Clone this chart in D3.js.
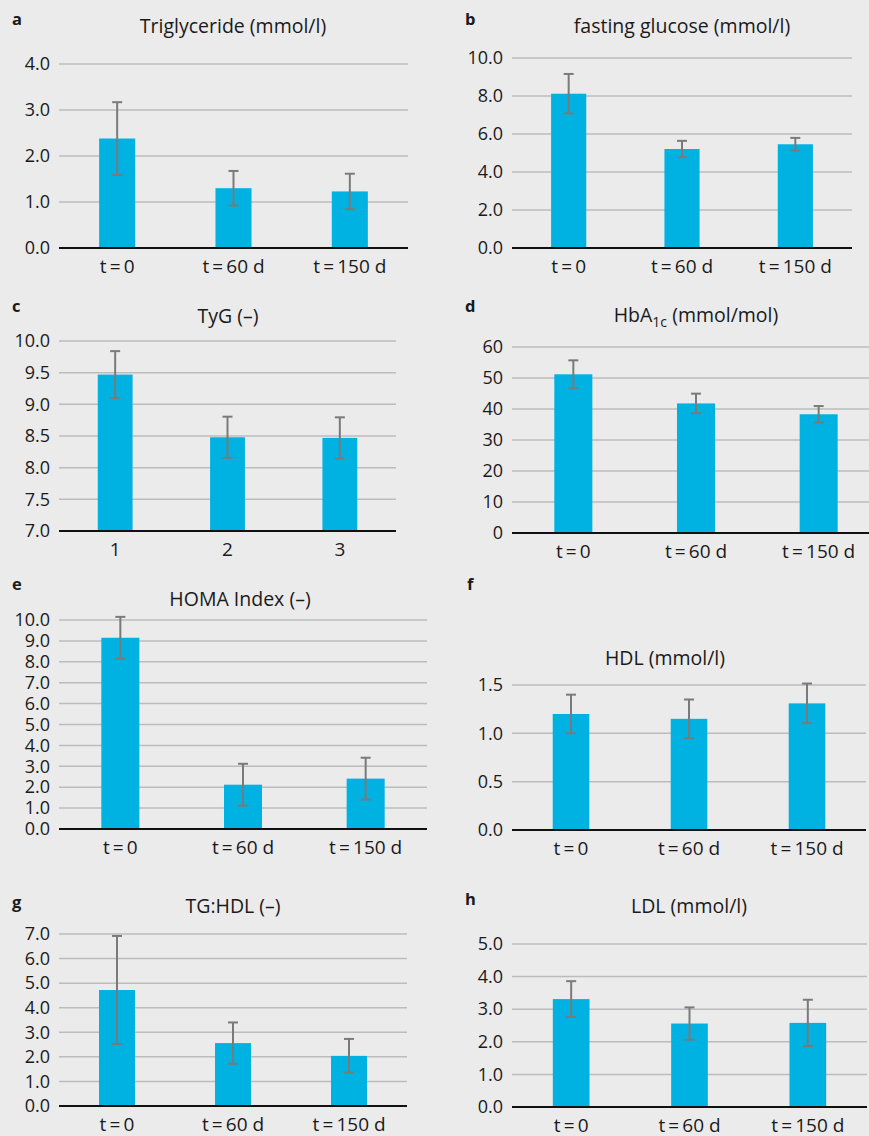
<!DOCTYPE html>
<html>
<head>
<meta charset="utf-8">
<script src="https://cdn.jsdelivr.net/npm/d3@7"></script>
<style>
  body { margin: 0; background: #ebebeb; }
  text { font-family: "Open Sans", sans-serif; fill: #1a1a1a; }
</style>
</head>
<body>
<svg id="chart" width="869" height="1136"></svg>
<script>
// --- data (mean and SD per time point)
var timeLabels = ['t\u2009=\u20090', 't\u2009=\u200960 d', 't\u2009=\u2009150 d'];
var tygLabels = ['1', '2', '3'];

var trigMean = [2.38, 1.30, 1.23],  trigSD = [0.79, 0.375, 0.385];
var glucMean = [8.12, 5.21, 5.46],  glucSD = [1.04, 0.43, 0.335];
var tygMean  = [9.47, 8.48, 8.47],  tygSD  = [0.37, 0.325, 0.325];
var hbaMean  = [51.2, 41.8, 38.3],  hbaSD  = [4.5, 3.15, 2.65];
var homaMean = [9.15, 2.12, 2.41],  homaSD = [1.0, 1.0, 1.0];
var hdlMean  = [1.20, 1.15, 1.31],  hdlSD  = [0.20, 0.20, 0.205];
var tghMean  = [4.72, 2.56, 2.04],  tghSD  = [2.2, 0.84, 0.69];
var ldlMean  = [3.31, 2.56, 2.58],  ldlSD  = [0.55, 0.495, 0.71];

var trigTicks = [0, 1, 2, 3, 4];
var glucTicks = [0, 2, 4, 6, 8, 10];
var tygTicks  = [7, 7.5, 8, 8.5, 9, 9.5, 10];
var hbaTicks  = [0, 10, 20, 30, 40, 50, 60];
var homaTicks = [0, 1, 2, 3, 4, 5, 6, 7, 8, 9, 10];
var hdlTicks  = [0, 0.5, 1, 1.5];
var tghTicks  = [0, 1, 2, 3, 4, 5, 6, 7];
var ldlTicks  = [0, 1, 2, 3, 4, 5];

// --- panel layout (box = left, right, top, bottom in px)
var panels = [
  {letter: 'a', title: 'Triglyceride (mmol/l)', cats: timeLabels, mean: trigMean, sd: trigSD, ticks: trigTicks, fmt: '.1f',
   box: [59, 408, 64, 248], titleAt: [233, 33], letterAt: [12, 25]},
  {letter: 'b', title: 'fasting glucose (mmol/l)', cats: timeLabels, mean: glucMean, sd: glucSD, ticks: glucTicks, fmt: '.1f',
   box: [512, 852, 58, 248], titleAt: [682, 33], letterAt: [465, 25]},
  {letter: 'c', title: 'TyG (\u2013)', cats: tygLabels, mean: tygMean, sd: tygSD, ticks: tygTicks, fmt: '.1f',
   box: [59, 396, 341, 531], titleAt: [228, 323], letterAt: [12, 312]},
  {letter: 'd', title: 'HbA', sub: '1c', after: ' (mmol/mol)', cats: timeLabels, mean: hbaMean, sd: hbaSD, ticks: hbaTicks, fmt: 'd',
   box: [512, 880, 347, 533], titleAt: [696, 322], letterAt: [465, 312]},
  {letter: 'e', title: 'HOMA Index (\u2013)', cats: timeLabels, mean: homaMean, sd: homaSD, ticks: homaTicks, fmt: '.1f',
   box: [59, 427, 620, 829], titleAt: [240, 606], letterAt: [12, 590]},
  {letter: 'f', title: 'HDL (mmol/l)', cats: timeLabels, mean: hdlMean, sd: hdlSD, ticks: hdlTicks, fmt: '.1f',
   box: [512, 866, 685, 830], titleAt: [665, 665], letterAt: [467, 590]},
  {letter: 'g', title: 'TG:HDL (\u2013)', cats: timeLabels, mean: tghMean, sd: tghSD, ticks: tghTicks, fmt: '.1f',
   box: [59, 407, 934, 1106], titleAt: [233, 913], letterAt: [12, 908]},
  {letter: 'h', title: 'LDL (mmol/l)', cats: timeLabels, mean: ldlMean, sd: ldlSD, ticks: ldlTicks, fmt: '.1f',
   box: [512, 867, 944, 1107], titleAt: [689, 913], letterAt: [465, 905]}
];

var svg = d3.select('#chart');
svg.append('rect').attr('width', 869).attr('height', 1136).style('fill', '#ebebeb');

panels.forEach(function(p) {
  var L = p.box[0], R = p.box[1], T = p.box[2], B = p.box[3];
  var rows = p.cats.map(function(c, i) { return {cat: c, mean: p.mean[i], sd: p.sd[i]}; });

  var x = d3.scaleBand().domain(p.cats).range([L, R]).paddingInner(0.69).paddingOuter(0.345);
  var y = d3.scaleLinear().domain(d3.extent(p.ticks)).range([B, T]);

  var g = svg.append('g');

  // gridlines
  g.selectAll('line.grid')
    .data(p.ticks.slice(1))
    .enter().append('line')
    .attr('x1', L).attr('x2', R)
    .attr('y1', function(d) { return y(d); })
    .attr('y2', function(d) { return y(d); })
    .style('stroke', '#bcbcbc')
    .style('stroke-width', 1.5);

  // bars
  g.selectAll('rect.bar')
    .data(rows)
    .enter().append('rect')
    .attr('x', function(d) { return x(d.cat); })
    .attr('width', x.bandwidth())
    .attr('y', function(d) { return y(d.mean); })
    .attr('height', function(d) { return y(y.domain()[0]) - y(d.mean); })
    .style('fill', '#00b2e2');

  // error bars
  var eb = g.selectAll('g.err').data(rows).enter().append('g')
    .attr('transform', function(d) { return 'translate(' + (x(d.cat) + x.bandwidth() / 2) + ',0)'; })
    .style('stroke', '#7a7a7a').style('stroke-width', 2);
  eb.append('line')
    .attr('y1', function(d) { return y(d.mean + d.sd); })
    .attr('y2', function(d) { return y(d.mean - d.sd); });
  eb.append('line').attr('x1', -5).attr('x2', 5)
    .attr('y1', function(d) { return y(d.mean + d.sd); })
    .attr('y2', function(d) { return y(d.mean + d.sd); });
  eb.append('line').attr('x1', -5).attr('x2', 5)
    .attr('y1', function(d) { return y(d.mean - d.sd); })
    .attr('y2', function(d) { return y(d.mean - d.sd); });

  // baseline
  g.append('line')
    .attr('x1', L).attr('x2', R)
    .attr('y1', y(y.domain()[0])).attr('y2', y(y.domain()[0]))
    .style('stroke', '#111').style('stroke-width', 2);

  // y axis labels
  var ya = g.append('g').attr('transform', 'translate(' + L + ',0)')
    .call(d3.axisLeft(y).tickValues(p.ticks).tickSize(0).tickPadding(9).tickFormat(d3.format(p.fmt)));
  ya.select('.domain').remove();
  ya.selectAll('text').style('font-size', '18px').style('font-family', '"Open Sans", sans-serif').style('fill', '#1a1a1a');

  // x axis labels
  var xa = g.append('g').attr('transform', 'translate(0,' + B + ')')
    .call(d3.axisBottom(x).tickSize(0).tickPadding(12));
  xa.select('.domain').remove();
  xa.selectAll('text').style('font-size', '19px').style('font-family', '"Open Sans", sans-serif').style('fill', '#1a1a1a');

  // title
  var t = svg.append('text')
    .attr('x', p.titleAt[0]).attr('y', p.titleAt[1])
    .attr('text-anchor', 'middle')
    .style('font-size', '19.5px')
    .text(p.title);
  if (p.sub) {
    t.append('tspan').attr('dy', 5).style('font-size', '14px').text(p.sub);
    t.append('tspan').attr('dy', -5).text(p.after);
  }

  // panel letter
  svg.append('text')
    .attr('x', p.letterAt[0]).attr('y', p.letterAt[1])
    .style('font-size', '16.5px').style('font-weight', 'bold')
    .text(p.letter);
});
</script>
</body>
</html>
